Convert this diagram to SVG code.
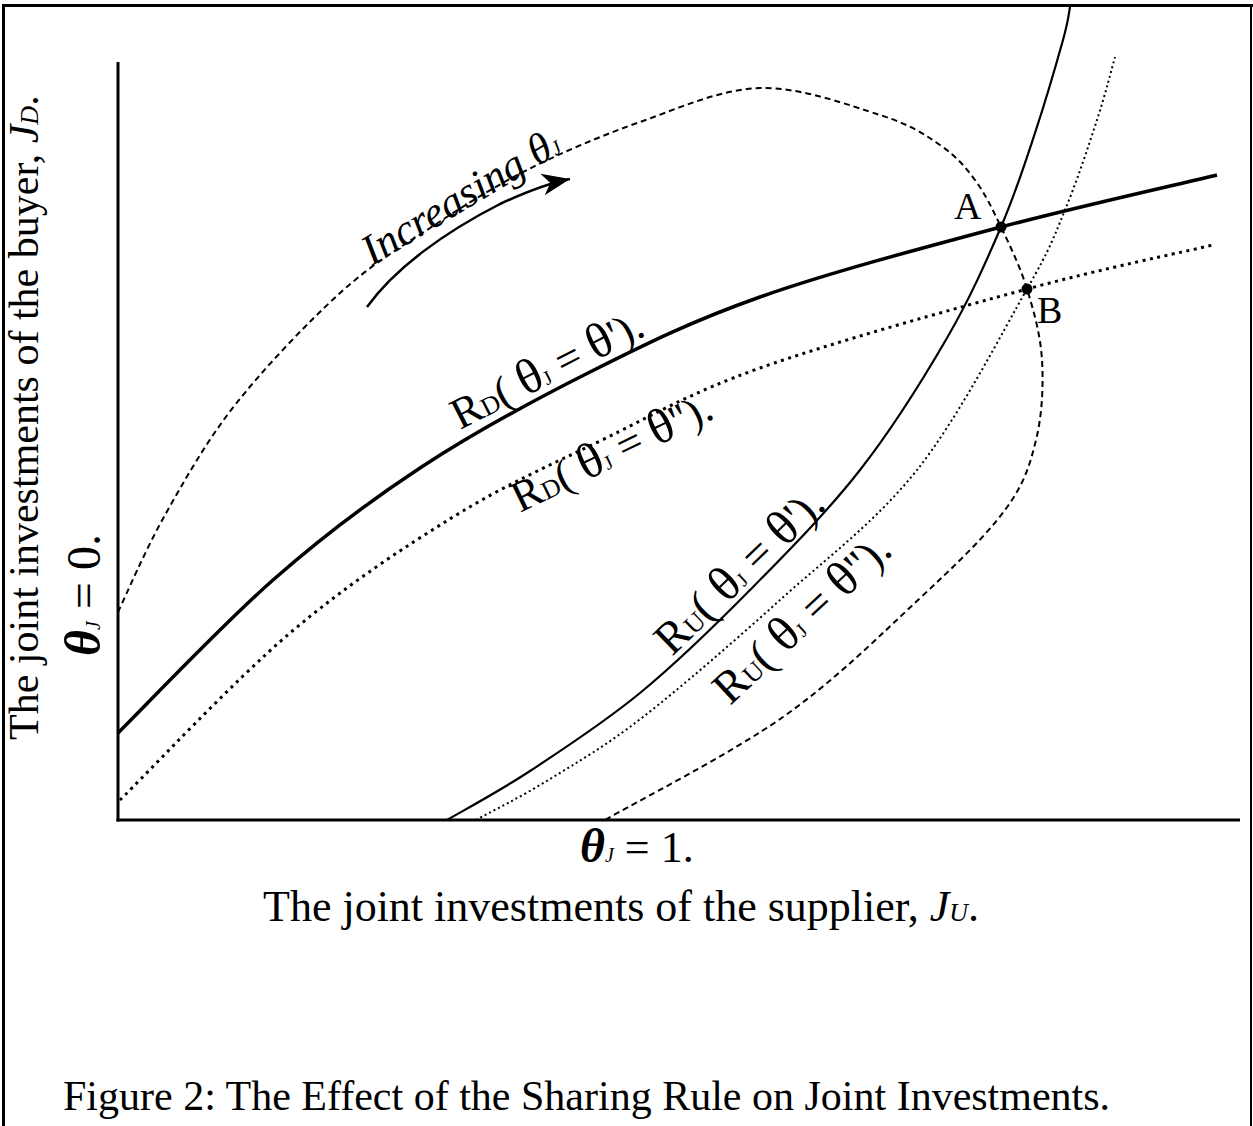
<svg xmlns="http://www.w3.org/2000/svg" width="1253" height="1126" viewBox="0 0 1253 1126">
<defs>
<style>
text{font-family:"Liberation Serif","Times New Roman",serif;fill:#000}
.lbl{font-size:44px}
.lbu{font-size:46px}
.th{font-size:50px}
.ax{font-size:44px}
.c{fill:none;stroke:#000}
.sub{font-size:26px}
.ss{font-size:20px}
</style>
<marker id="ah" viewBox="-30 -12 32 24" markerWidth="32" markerHeight="24" refX="0" refY="0" orient="auto" markerUnits="userSpaceOnUse">
<path d="M0,0 L-28,-11 L-20,0 L-28,11 Z" fill="#000"/>
</marker>
</defs>
<rect width="1253" height="1126" fill="#fff"/>
<g id="frame" fill="none" stroke="#000">
<line x1="2" y1="5.5" x2="1253" y2="5.5" stroke-width="3"/>
<line x1="3.5" y1="4" x2="3.5" y2="1126" stroke-width="3"/>
<line x1="1251" y1="4" x2="1251" y2="1126" stroke-width="2"/>
</g>
<g id="axes" fill="none" stroke="#000" stroke-width="3">
<line x1="118" y1="62" x2="118" y2="821.5"/>
<line x1="116.5" y1="820" x2="1240" y2="820"/>
</g>
<g id="connectors">
<path id="RD1" class="c" stroke-width="3.5" d="M118,733 C143.8,707.5 222.7,624.2 273,580 C323.3,535.8 367.2,502.7 420,468 C472.8,433.3 533.3,400.5 590,372 C646.7,343.5 691.5,321.2 760,297 C828.5,272.8 924.8,247.3 1001,227 C1077.2,206.7 1181,183.7 1217,175"/>
<path id="RD2" class="c" stroke-width="3" stroke-dasharray="3 4.5" d="M120,800 C148.3,772.2 234.5,680.2 290,633 C345.5,585.8 401.3,549 453,517 C504.7,485 548.8,465.8 600,441 C651.2,416.2 688.8,393.3 760,368 C831.2,342.7 951.5,309.5 1027,289 C1102.5,268.5 1182,252.3 1213,245"/>
<path id="RU1" class="c" stroke-width="2.2" d="M447,820 C460.8,811.8 497.8,792.2 530,771 C562.2,749.8 603.3,723.2 640,693 C676.7,662.8 713.3,627.2 750,590 C786.7,552.8 827.2,512 860,470 C892.8,428 923.5,378.5 947,338 C970.5,297.5 986.3,261.2 1001,227 C1015.7,192.8 1024.7,164.2 1035,133 C1045.3,101.8 1057.2,60.8 1063,40 C1068.8,19.2 1068.8,13.3 1070,7"/>
<path id="RU2" class="c" stroke-width="2" stroke-dasharray="2 3" d="M476,820 C488.3,813.2 522.2,796.2 550,779 C577.8,761.8 604.7,746.8 643,717 C681.3,687.2 734.3,641.2 780,600 C825.7,558.8 875.8,521.8 917,470 C958.2,418.2 1002.3,332.3 1027,289 C1051.7,245.7 1053.3,238.2 1065,210 C1076.7,181.8 1088.7,145.5 1097,120 C1105.3,94.5 1112,67.5 1115,57"/>
<path id="locus" class="c" stroke-width="2" stroke-dasharray="6 4" d="M118,612 C125.8,595.8 145.5,549.5 165,515 C184.5,480.5 205.8,442 235,405 C264.2,368 307.5,322.5 340,293 C372.5,263.5 398.8,248.5 430,228 C461.2,207.5 492,187.7 527,170 C562,152.3 601.2,135.7 640,122 C678.8,108.3 720,89.2 760,88 C800,86.8 850,105.5 880,115 C910,124.5 924.2,134.2 940,145 C955.8,155.8 964.8,166.3 975,180 C985.2,193.7 992.3,208.8 1001,227 C1009.7,245.2 1020.2,266.8 1027,289 C1033.8,311.2 1040.5,334.8 1042,360 C1043.5,385.2 1042.2,415 1036,440 C1029.8,465 1024.7,483.3 1005,510 C985.3,536.7 955,565.5 918,600 C881,634.5 835.2,680.3 783,717 C730.8,753.7 634.7,802.8 605,820"/>
<path id="arrow" class="c" stroke-width="2.5" marker-end="url(#ah)" d="M367,307 C395,268 445,232 500,204 C530,190 550,183 570,179"/>
</g>
<g id="pointA">
<circle cx="1001" cy="227" r="5.5" fill="#000"/>
<text x="954" y="219" style="font-size:38px">A</text>
</g>
<g id="pointB">
<circle cx="1027" cy="289" r="5.5" fill="#000"/>
<text x="1037" y="323" style="font-size:38px">B</text>
</g>
<g id="label-increasing">
<text transform="translate(372,266) rotate(-31)" style="font-size:43px;font-style:italic">Increasing θ<tspan class="ss">J</tspan></text>
</g>
<g id="label-RD1">
<text class="lbl" transform="translate(460,430) rotate(-27)">R<tspan class="sub">D</tspan>( <tspan class="th">θ</tspan><tspan class="ss">J</tspan> = <tspan class="th">θ</tspan>').</text>
</g>
<g id="label-RD2">
<text class="lbl" transform="translate(520,513) rotate(-26)">R<tspan class="sub">D</tspan>( <tspan class="th">θ</tspan><tspan class="ss">J</tspan> = <tspan class="th">θ</tspan>'').</text>
</g>
<g id="label-RU1">
<text class="lbu" transform="translate(672,657) rotate(-44)">R<tspan class="sub">U</tspan>( <tspan class="th">θ</tspan><tspan class="ss">J</tspan> = <tspan class="th">θ</tspan>').</text>
</g>
<g id="label-RU2">
<text class="lbu" transform="translate(730,706) rotate(-43)">R<tspan class="sub">U</tspan>( <tspan class="th">θ</tspan><tspan class="ss">J</tspan> = <tspan class="th">θ</tspan>'').</text>
</g>
<g id="ylabel">
<text style="font-size:42px" transform="translate(38,740) rotate(-90)">The joint investments of the buyer, <tspan font-style="italic">J</tspan><tspan class="sub" font-style="italic">D</tspan>.</text>
</g>
<g id="theta0">
<text style="font-size:48px" transform="translate(100,656) rotate(-90)"><tspan font-style="italic" font-weight="bold" font-size="50">θ</tspan><tspan class="ss" font-style="italic">J</tspan> = 0.</text>
</g>
<g id="theta1">
<text class="ax" x="580" y="862"><tspan font-style="italic" font-weight="bold" font-size="48">θ</tspan><tspan class="ss" font-style="italic">J</tspan> = 1.</text>
</g>
<g id="xlabel">
<text class="ax" x="263" y="921">The joint investments of the supplier, <tspan font-style="italic">J</tspan><tspan class="sub" font-style="italic">U</tspan>.</text>
</g>
<g id="caption">
<text x="63" y="1110" style="font-size:42px">Figure 2: The Effect of the Sharing Rule on Joint Investments.</text>
</g>
</svg>
